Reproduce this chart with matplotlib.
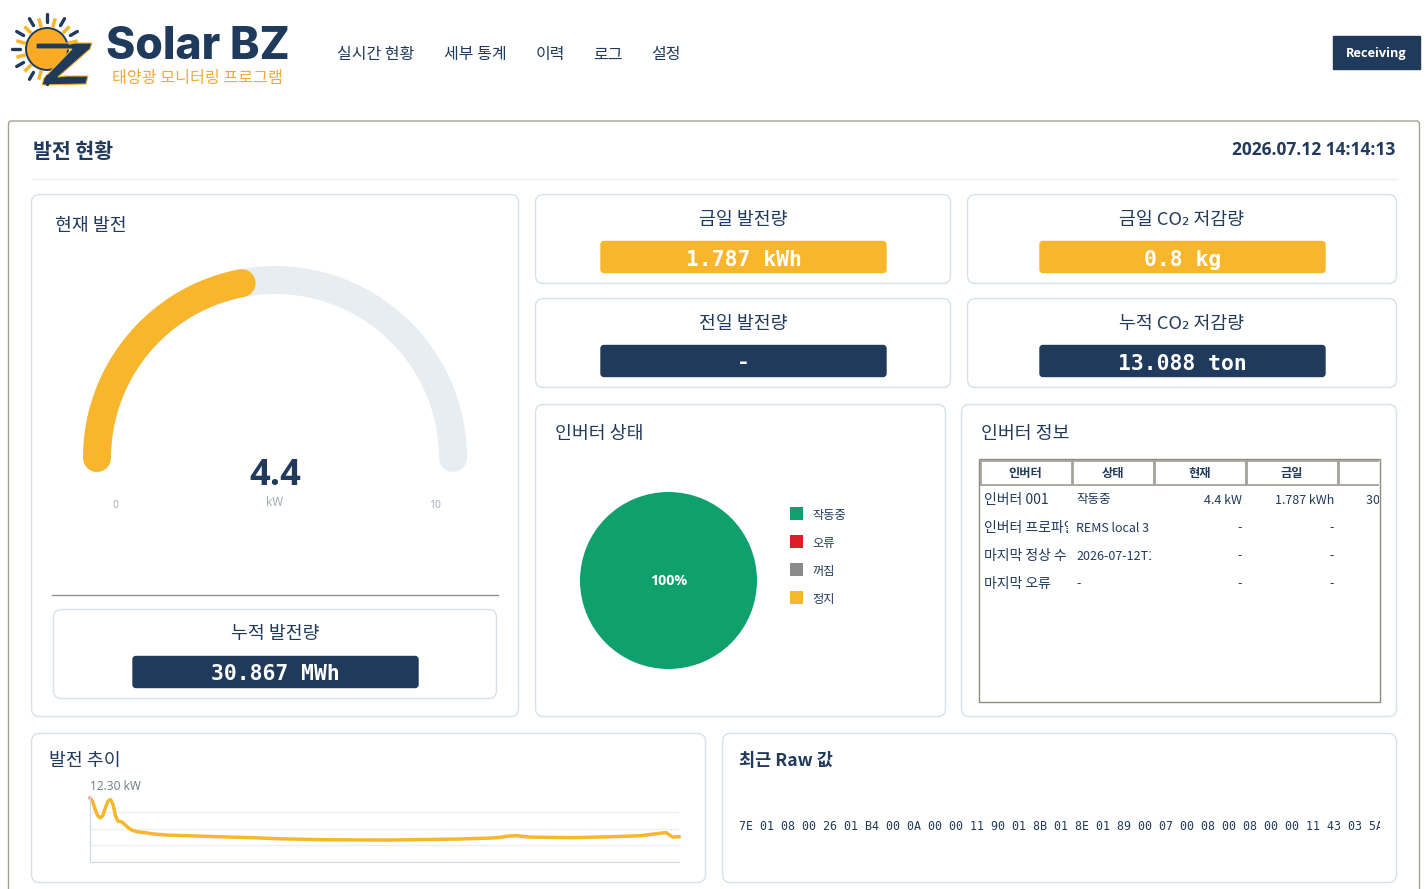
import matplotlib
matplotlib.use("Agg")
import matplotlib.pyplot as plt
import numpy as np
from matplotlib.patches import FancyBboxPatch, Rectangle, Circle, Polygon

KR = ["Noto Sans CJK KR", "DejaVu Sans"]
MONO = ["DejaVu Sans Mono", "Noto Sans CJK KR"]
plt.rcParams["font.family"] = KR

NAVY = "#203a5c"
AMBER = "#f8b62d"
BORDER = "#d8e0e8"
W, H = 1426, 889

nav_labels = ["실시간 현황", "세부 통계", "이력", "로그", "설정"]
nav_x = [376, 475, 550, 608, 666]

gauge_value = 4.4
gauge_max = 10

pie_labels = ["작동중", "오류", "꺼짐", "정지"]
pie_values = [100, 0, 0, 0]
pie_colors = ["#0fa06e", "#dc1f26", "#8a8a8a", "#f8b62d"]

table_headers = ["인버터", "상태", "현재", "금일"]
table_names = ["인버터 001", "인버터 프로파일", "마지막 정상 수신", "마지막 오류"]
table_status = ["작동중", "REMS local 3", "2026-07-12T14:14", "-"]
table_now = ["4.4 kW", "-", "-", "-"]
table_today = ["1.787 kWh", "-", "-", "-"]

trend_x = [0, 6, 12, 18, 24, 30, 36, 42, 48, 54, 60, 66, 75, 84, 96, 110, 130, 150, 180,
           230, 300, 380, 440, 540, 700, 860, 940, 960, 980, 1000, 1030, 1130, 1220,
           1290, 1340, 1350, 1365, 1380]
trend_y = [11.95, 11.32, 9.75, 8.62, 8.18, 8.62, 10.06, 11.32, 11.64, 10.69, 8.49, 7.55,
           7.42, 6.73, 5.97, 5.60, 5.41, 5.16, 4.97, 4.84, 4.65, 4.47, 4.28, 4.09, 4.03,
           4.21, 4.40, 4.53, 4.78, 4.84, 4.59, 4.47, 4.65, 4.84, 5.35, 5.41, 4.59, 4.65]
trend_max = 12.3

raw_text = ("7E 01 08 00 26 01 B4 00 0A 00 00 11 90 01 8B 01 8E 01 89 00 07 00 08 00 08 "
            "00 00 11 43 03 5A 7F")


def sub_axes(fig, left, top, right, bottom):
    return fig.add_axes([left / W, 1 - bottom / H, (right - left) / W, (bottom - top) / H])


def panel(ax, left, top, right, bottom, edge=BORDER, radius=8, face="white", lw=1.0):
    ax.add_patch(FancyBboxPatch((left, top), right - left, bottom - top,
                                boxstyle=f"round,pad=0,rounding_size={radius}",
                                fc=face, ec=edge, lw=lw))


def clip_text(ax, t, left, top, right, bottom):
    t.set_clip_on(True)
    t.set_clip_path(Rectangle((left, top), right - left, bottom - top, transform=ax.transData))
    return t


def stat_card(ax, left, top, right, bottom, title, value, color, badge_left, badge_right):
    panel(ax, left, top, right, bottom)
    cx = (left + right) / 2
    ax.text(cx, top + 25, title, ha="center", va="center", fontsize=13.2, color=NAVY,
            fontweight="medium")
    panel(ax, badge_left, top + 47, badge_right, top + 78, edge=color, radius=3, face=color)
    ax.text((badge_left + badge_right) / 2, top + 65, value, ha="center", va="center",
            fontsize=15.4, color="white", family=MONO, fontweight="bold")


def draw_logo(ax):
    cx, cy = 47, 49
    for ang in np.arange(0, 360, 30):
        if ang in (300, 330, 0):
            continue
        a = np.deg2rad(ang)
        ax.plot([cx + 27 * np.cos(a), cx + 35 * np.cos(a)],
                [cy - 27 * np.sin(a), cy - 35 * np.sin(a)], color=NAVY, lw=2.4,
                solid_capstyle="round")
    for ang in np.arange(15, 360, 30):
        if ang in (285, 315, 345):
            continue
        a = np.deg2rad(ang)
        ax.plot([cx + 24 * np.cos(a), cx + 30 * np.cos(a)],
                [cy - 24 * np.sin(a), cy - 30 * np.sin(a)], color=AMBER, lw=2.5)
    ax.add_patch(Circle((cx, cy), 21, fc="#fbaa26", ec=NAVY, lw=1.4))
    ax.add_patch(Polygon([(36, 43), (92, 43), (90, 49), (58, 77), (65, 76), (64, 76),
                          (88, 76), (86, 84), (42, 85), (44, 78), (72, 49), (36, 49)],
                         closed=True, fc=NAVY, ec=AMBER, lw=0.8))


fig = plt.figure(figsize=(W / 100, H / 100), dpi=100, facecolor="white")
bg = fig.add_axes([0, 0, 1, 1])
bg.set_xlim(0, W)
bg.set_ylim(H, 0)
bg.axis("off")

# header
draw_logo(bg)
bg.text(106, 47, "Solar BZ", ha="left", va="center", fontsize=32, fontweight="heavy",
        color=NAVY, family="Inter")
bg.text(197, 79, "태양광 모니터링 프로그램", ha="center", va="center", fontsize=11.6,
        color="#f3a93a", fontweight="medium")
for label, x in zip(nav_labels, nav_x):
    bg.text(x, 55, label, ha="center", va="center", fontsize=11.5, color=NAVY,
            fontweight="medium")
bg.add_patch(Rectangle((1333, 36), 87, 33, fc=NAVY, ec=NAVY))
bg.text(1376, 54, "Receiving", ha="center", va="center", fontsize=9.2, color="white",
        fontweight="bold", family="Open Sans")

# outer card
bg.add_patch(FancyBboxPatch((8.5, 121), 1411, 800, boxstyle="round,pad=0,rounding_size=3",
                            fc="white", ec="#a5a28e", lw=1.0))
bg.text(33, 152, "발전 현황", ha="left", va="center", fontsize=14.8, color=NAVY, fontweight="bold")
bg.text(1395, 150, "2026.07.12 14:14:13", ha="right", va="center", fontsize=12.5,
        color=NAVY, fontweight="bold", family="Open Sans")
bg.plot([32, 1396], [178.5, 178.5], color="#eceff2", lw=1)

# current power panel
panel(bg, 31.5, 194.5, 518.5, 716.5)
bg.text(55, 226, "현재 발전", ha="left", va="center", fontsize=13.2, color=NAVY, fontweight="medium")
gauge_cx, gauge_cy, gauge_r = 275, 458, 178
gauge_lw = 28 * 0.72
theta_bg = np.linspace(np.pi, 0, 200)
bg.plot(gauge_cx + gauge_r * np.cos(theta_bg), gauge_cy - gauge_r * np.sin(theta_bg),
        color="#e8edf1", lw=gauge_lw, solid_capstyle="round")
theta_val = np.linspace(np.pi, np.pi * (1 - gauge_value / gauge_max), 200)
bg.plot(gauge_cx + gauge_r * np.cos(theta_val), gauge_cy - gauge_r * np.sin(theta_val),
        color=AMBER, lw=gauge_lw, solid_capstyle="round")
bg.text(275, 476, f"{gauge_value}", ha="center", va="center", fontsize=26, color=NAVY,
        fontweight="bold", family="Open Sans")
bg.text(275, 503, "kW", ha="center", va="center", fontsize=8.5, color="#a0a8b2", family="Open Sans")
bg.text(115, 506, "0", ha="center", va="center", fontsize=7.5, color="#a0a8b2", family="Open Sans")
bg.text(435, 506, f"{gauge_max}", ha="center", va="center", fontsize=7.5, color="#a0a8b2",
        family="Open Sans")
bg.plot([52, 498], [594.5, 594.5], color="#8f8f8f", lw=1)
stat_card(bg, 53.5, 609.5, 496.5, 698.5, "누적 발전량", "30.867 MWh", NAVY, 133, 418)

# stat cards
stat_card(bg, 535.5, 194.5, 950.5, 283.5, "금일 발전량", "1.787 kWh", AMBER, 601, 886)
stat_card(bg, 967.5, 194.5, 1396.5, 283.5, "금일 CO₂ 저감량", "0.8 kg", AMBER, 1040, 1325)
stat_card(bg, 535.5, 298.5, 950.5, 387.5, "전일 발전량", "-", NAVY, 601, 886)
stat_card(bg, 967.5, 298.5, 1396.5, 387.5, "누적 CO₂ 저감량", "13.088 ton", NAVY, 1040, 1325)

# inverter status
panel(bg, 535.5, 404.5, 945.5, 716.5)
bg.text(555, 434, "인버터 상태", ha="left", va="center", fontsize=13.2, color=NAVY, fontweight="medium")
pie_ax = sub_axes(fig, 578, 490, 759, 671)
pie_ax.pie(pie_values, colors=pie_colors, radius=1, startangle=90,
           wedgeprops={"linewidth": 0})
pie_ax.set_xlim(-90.5 / 88.5, 90.5 / 88.5)
pie_ax.set_ylim(-90.5 / 88.5, 90.5 / 88.5)
pie_ax.text(0, -0.01, f"{pie_values[0]}%", ha="center", va="center", fontsize=10.3, color="white",
            fontweight="bold", family="Open Sans")
for i, (label, color) in enumerate(zip(pie_labels, pie_colors)):
    y = 514 + i * 28
    bg.add_patch(Rectangle((790, y - 7), 13, 13, fc=color, ec=color, lw=0))
    bg.text(812, y + 1, label, ha="left", va="center", fontsize=8.8, color=NAVY)

# inverter info
panel(bg, 961.5, 404.5, 1396.5, 716.5)
bg.text(981, 434, "인버터 정보", ha="left", va="center", fontsize=13.2, color=NAVY, fontweight="medium")
bg.add_patch(Rectangle((978.5, 458.5), 401, 243, fc="white", ec="#8f8c80", lw=1.0))
table_clip = Rectangle((979, 459), 400, 242, transform=bg.transData)
header_x = [980, 1072, 1154, 1246, 1338]
header_r = [1071, 1153, 1245, 1337, 1400]
for i in range(5):
    cell = Rectangle((header_x[i] + 0.5, 460.5), header_r[i] - header_x[i], 24, fc="white",
                     ec="#a5a29a", lw=1.3)
    bg.add_patch(cell)
    cell.set_clip_path(table_clip)
    if i < len(table_headers):
        bg.text((header_x[i] + header_r[i]) / 2, 473, table_headers[i], ha="center", va="center",
                fontsize=8.8, color=NAVY, fontweight="bold")
for i in range(len(table_names)):
    y = 500 + i * 28
    clip_text(bg, bg.text(984, y, table_names[i], ha="left", va="center", fontsize=10, color=NAVY),
              980, y - 12, 1068, y + 12)
    clip_text(bg, bg.text(1076, y, table_status[i], ha="left", va="center", fontsize=9, color=NAVY),
              1072, y - 12, 1151, y + 12)
    bg.text(1242, y, table_now[i], ha="right", va="center", fontsize=9, color=NAVY)
    bg.text(1334, y, table_today[i], ha="right", va="center", fontsize=9, color=NAVY)
clip_text(bg, bg.text(1366, 500, "30.867 MWh", ha="left", va="center", fontsize=9, color=NAVY),
          1340, 488, 1379, 512)

# trend panel
panel(bg, 31.5, 733.5, 705.5, 882.5)
bg.text(49, 761, "발전 추이", ha="left", va="center", fontsize=13.2, color=NAVY, fontweight="medium")
bg.text(90, 786, f"{trend_max:.2f} kW", ha="left", va="center", fontsize=8.6, color="#6f7b88",
        family="Open Sans")
trend_ax = sub_axes(fig, 90, 796, 679, 861.5)
trend_ax.set_xlim(0, 1380)
trend_ax.set_ylim(0, trend_max)
trend_ax.set_yticks(np.arange(1, 4) * trend_max / 4)
trend_ax.set_xticks([])
trend_ax.set_yticklabels([])
trend_ax.tick_params(length=0)
trend_ax.grid(axis="y", color="#eceff3", lw=1)
trend_ax.set_axisbelow(True)
for side in ["top", "right"]:
    trend_ax.spines[side].set_visible(False)
for side in ["left", "bottom"]:
    trend_ax.spines[side].set_color("#cfd8e1")
trend_ax.plot(trend_x, trend_y, color=AMBER, lw=2.5, clip_on=False)

# raw panel
panel(bg, 722.5, 733.5, 1396.5, 882.5)
bg.text(739, 761, "최근 Raw 값", ha="left", va="center", fontsize=12.6, color=NAVY, fontweight="bold")
clip_text(bg, bg.text(739, 826, raw_text, ha="left", va="center", fontsize=8.4, color=NAVY,
                      family="DejaVu Sans Mono"), 735, 815, 1380, 837)

fig.savefig("out.png", dpi=100)
